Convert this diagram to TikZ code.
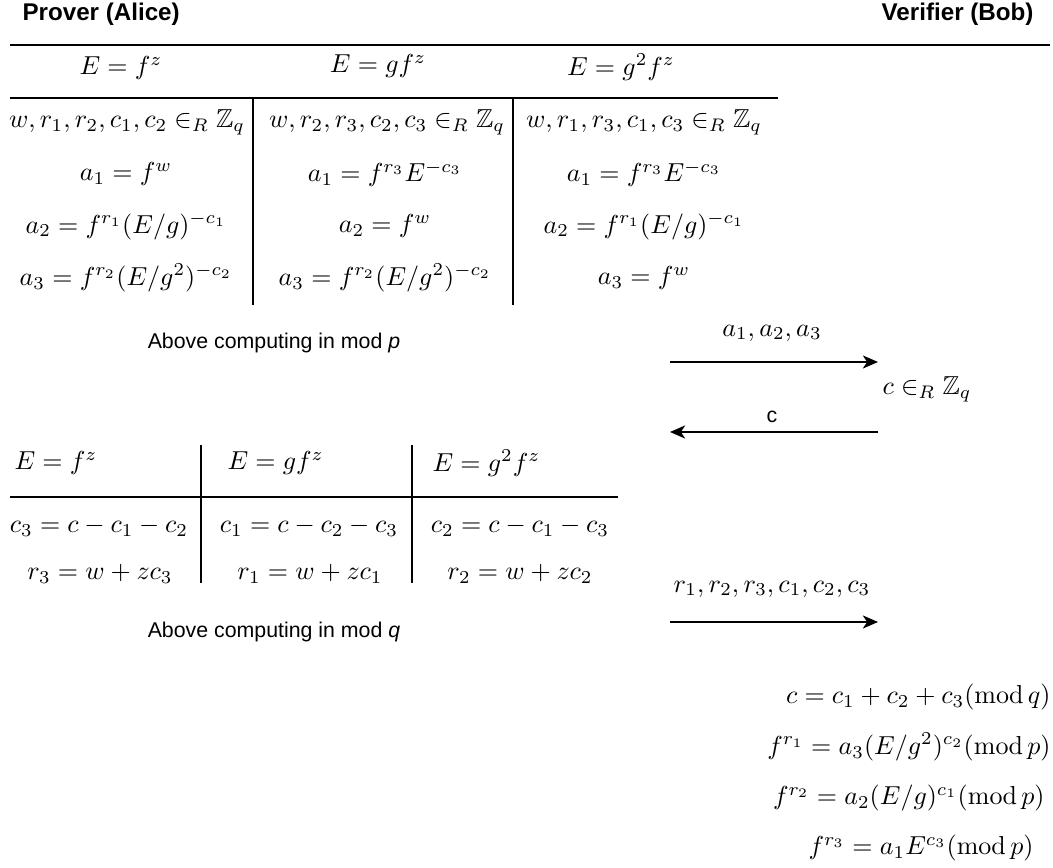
\documentclass[tikz,border=0pt]{standalone}
\usepackage{amsmath,amssymb}
\usepackage{fontspec}
\setsansfont{Liberation Sans}
\usetikzlibrary{arrows.meta}
\begin{document}
\begin{tikzpicture}[x=0.3846pt,y=-0.3846pt,
  rule/.style={line width=0.77pt},
  mth/.style={inner sep=0pt},
  lbl/.style={font=\sffamily\fontsize{8.2}{10}\selectfont, inner sep=0pt},
  party/.style={font=\sffamily\bfseries\fontsize{9.3}{11}\selectfont, inner sep=0pt},
  msg/.style={line width=0.77pt, -{Stealth[length=5.8pt,width=5pt,inset=1.6pt]}}]
\useasboundingbox (0,0) rectangle (1053,868);
% parties
\node[party, anchor=west] (prover) at (22,14) {Prover (Alice)};
\node[party, anchor=east] (verifier) at (1034,14) {Verifier (Bob)};
\draw[rule] (10,45) -- (1050,45);
% first table
\node[mth] (h1) at (121,68) {$E = f^z$};
\node[mth] (h2) at (378,66) {$E = gf^z$};
\node[mth] (h3) at (621,67) {$E = g^2f^z$};
\draw[rule] (10,98) -- (778,98);
\draw[rule] (253,98) -- (253,305);
\draw[rule] (513,98) -- (513,305);
\node[mth] (a11) at (127,122) {$w, r_1, r_2, c_1, c_2 \in_R \mathbb{Z}_q$};
\node[mth] (a12) at (126,174) {$a_1 = f^w$};
\node[mth] (a13) at (126,226) {$a_2 = f^{r_1}(E/g)^{-c_1}$};
\node[mth] (a14) at (126,278) {$a_3 = f^{r_2}(E/g^2)^{-c_2}$};
\node[mth] (a21) at (387,122) {$w, r_2, r_3, c_2, c_3 \in_R \mathbb{Z}_q$};
\node[mth] (a22) at (385,174) {$a_1 = f^{r_3}E^{-c_3}$};
\node[mth] (a23) at (385,226) {$a_2 = f^w$};
\node[mth] (a24) at (385,278) {$a_3 = f^{r_2}(E/g^2)^{-c_2}$};
\node[mth] (a31) at (644,122) {$w, r_1, r_3, c_1, c_3 \in_R \mathbb{Z}_q$};
\node[mth] (a32) at (644,174) {$a_1 = f^{r_3}E^{-c_3}$};
\node[mth] (a33) at (644,226) {$a_2 = f^{r_1}(E/g)^{-c_1}$};
\node[mth] (a34) at (644,278) {$a_3 = f^w$};
\node[lbl] (modp) at (274,343) {Above computing in mod \textit{p}};
% second table
\node[mth, anchor=west] (k1) at (14,463) {$E = f^z$};
\node[mth, anchor=west] (k2) at (227,463) {$E = gf^z$};
\node[mth, anchor=west] (k3) at (432,463) {$E = g^2f^z$};
\draw[rule] (10,497) -- (618,497);
\draw[rule] (201,445) -- (201,583);
\draw[rule] (412,445) -- (412,583);
\node[mth] (b11) at (99,527) {$c_3 = c - c_1 - c_2$};
\node[mth] (b12) at (100,574) {$r_3 = w + zc_3$};
\node[mth] (b21) at (309,527) {$c_1 = c - c_2 - c_3$};
\node[mth] (b22) at (310,574) {$r_1 = w + zc_1$};
\node[mth] (b31) at (520,527) {$c_2 = c - c_1 - c_3$};
\node[mth] (b32) at (520,574) {$r_2 = w + zc_2$};
\node[lbl] (modq) at (274,632) {Above computing in mod \textit{q}};
% messages
\coordinate (m1s) at (670,362);
\coordinate (m1e) at (878,362);
\draw[msg] (m1s) -- (m1e);
\node[mth] (m1l) at (772,333) {$a_1, a_2, a_3$};
\node[mth] (chal) at (927,389) {$c \in_R \mathbb{Z}_q$};
\coordinate (m2s) at (878,432);
\coordinate (m2e) at (670,432);
\draw[msg] (m2s) -- (m2e);
\node[lbl] (m2l) at (772,417) {c};
\node[mth] (m3l) at (772,589) {$r_1, r_2, r_3, c_1, c_2, c_3$};
\coordinate (m3s) at (670,622);
\coordinate (m3e) at (878,622);
\draw[msg] (m3s) -- (m3e);
% verification
\node[mth, anchor=east] (v1) at (1051,697) {$c = c_1 + c_2 + c_3(\mathrm{mod}\,q)$};
\node[mth, anchor=east] (v2) at (1051,747) {$f^{r_1} = a_3(E/g^2)^{c_2}(\mathrm{mod}\,p)$};
\node[mth, anchor=east] (v3) at (1045,798) {$f^{r_2} = a_2(E/g)^{c_1}(\mathrm{mod}\,p)$};
\node[mth] (v4) at (921,848) {$f^{r_3} = a_1E^{c_3}(\mathrm{mod}\,p)$};
\end{tikzpicture}
\end{document}
